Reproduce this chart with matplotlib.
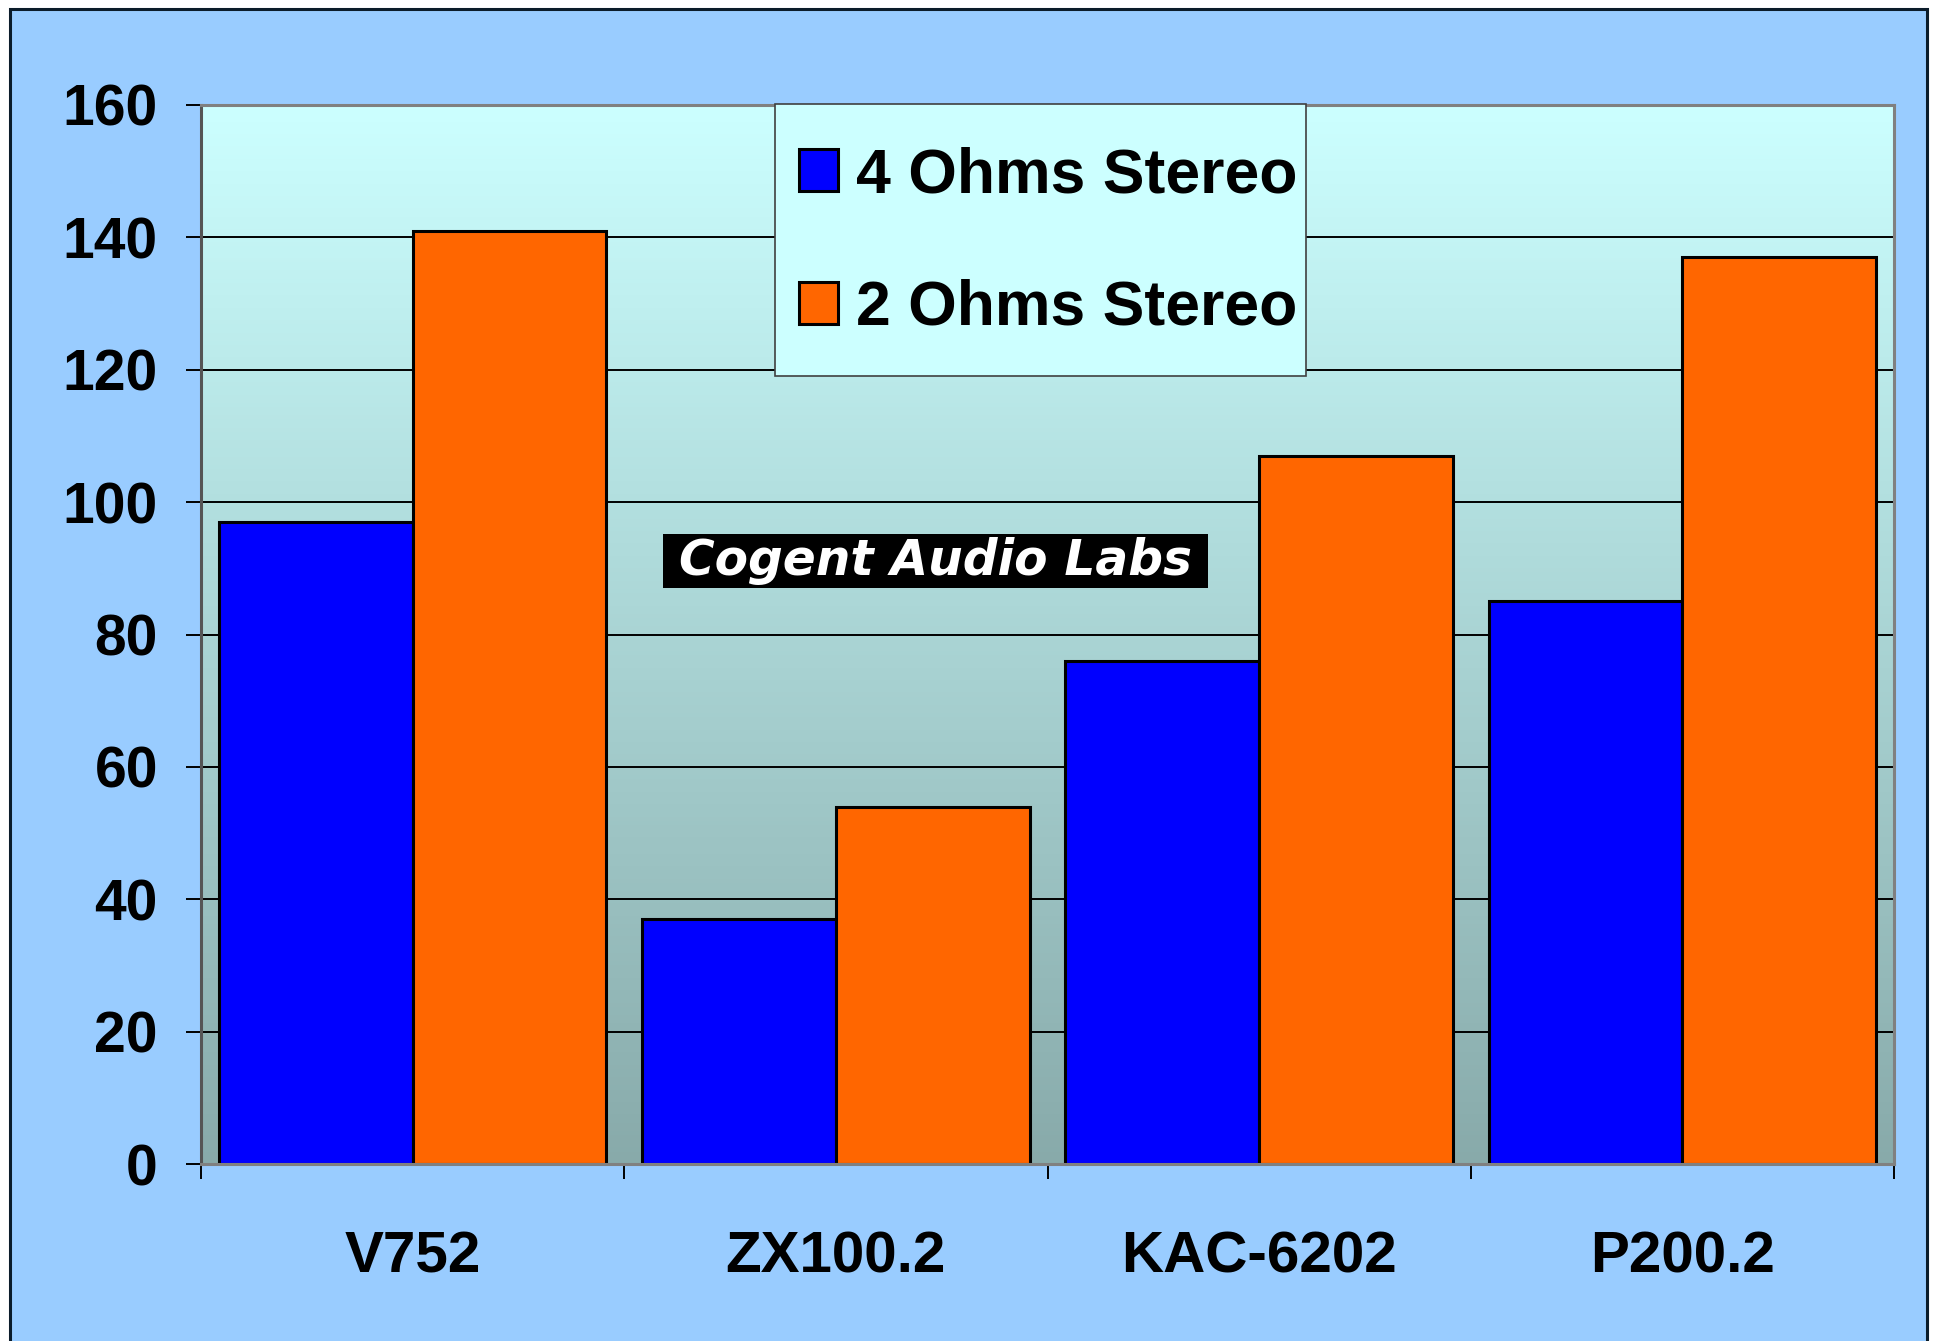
import matplotlib
matplotlib.use("Agg")
import matplotlib.pyplot as plt
import matplotlib.patches as mpatches
from matplotlib.colors import LinearSegmentedColormap
import numpy as np

plt.rcParams["font.family"] = ["Liberation Sans", "DejaVu Sans"]
plt.rcParams["font.weight"] = "bold"

models = ["V752", "ZX100.2", "KAC-6202", "P200.2"]
ohms4 = [97, 37, 76, 85]
ohms2 = [141, 54, 107, 137]
series_names = ["4 Ohms Stereo", "2 Ohms Stereo"]
yticks = [0, 20, 40, 60, 80, 100, 120, 140, 160]

W, H = 1937, 1341
fig = plt.figure(figsize=(W / 100, H / 100), dpi=100)
fig.patch.set_facecolor("white")

# blue frame behind the chart
frame = mpatches.Rectangle((10 / W, -0.02), 1917 / W, 1.02 - 9 / H,
                           transform=fig.transFigure, facecolor="#99CCFF",
                           edgecolor="#0b1c2a", lw=2.2, zorder=0)
fig.add_artist(frame)

ax = fig.add_axes([201 / W, 1 - 1164 / H, (1894 - 201) / W, (1164 - 105) / H])
ax.set_facecolor("none")

# gradient plot area
grad = LinearSegmentedColormap.from_list("bg", ["#88AAAA", "#CCFFFF"])
ax.imshow(np.linspace(0, 1, 256).reshape(-1, 1)[::-1], cmap=grad, aspect="auto",
          extent=[-0.5, 3.5, 0, 160], zorder=0)

x = np.arange(len(models))
w = 0.458
ax.bar(x - w / 2, ohms4, w, color="#0000FF", edgecolor="black", lw=2.2,
       label=series_names[0], zorder=2)
ax.bar(x + w / 2, ohms2, w, color="#FF6600", edgecolor="black", lw=2.2,
       label=series_names[1], zorder=2)

ax.set_xlim(-0.5, 3.5)
ax.set_ylim(0, 160)
ax.yaxis.grid(True, color="black", lw=1.4)
ax.set_axisbelow(True)

ax.set_yticks(yticks)
ax.set_yticklabels([str(v) for v in yticks], fontsize=41, fontweight="bold")
ax.tick_params(axis="y", direction="out", length=11, width=1.4, pad=20, color="black")

ax.set_xticks(x)
ax.set_xticklabels(models, fontsize=42, fontweight="bold")
ax.set_xticks(np.arange(-0.5, 4, 1), minor=True)
ax.tick_params(axis="x", which="major", length=0, pad=48)
ax.tick_params(axis="x", which="minor", direction="out", length=11, width=1.4, color="black")

for s in ax.spines.values():
    s.set_color("#808080")
    s.set_linewidth(2.2)
ax.spines["left"].set_color("#555555")

# legend box
ax.add_patch(mpatches.Rectangle((775 / W, 1 - 376 / H), (1306 - 775) / W, (376 - 104) / H,
                                transform=fig.transFigure, facecolor="#CCFFFF",
                                edgecolor="#404040", lw=1.2, zorder=4, clip_on=False))
leg = ax.legend(loc="center left", bbox_to_anchor=(799 / W, 1 - 242 / H),
                bbox_transform=fig.transFigure, borderaxespad=0, borderpad=0,
                fontsize=45, frameon=False, handlelength=0.62, handleheight=0.67,
                handletextpad=0.3, labelspacing=1.18)
leg.set_zorder(5)

# watermark
fig.add_artist(mpatches.Rectangle((663 / W, 1 - 588 / H), (1208 - 663) / W, 54 / H,
                                  transform=fig.transFigure, facecolor="black",
                                  edgecolor="none", zorder=6))
fig.text((663 + 1208) / 2 / W, 1 - 561 / H, "Cogent Audio Labs", color="white",
         fontsize=35, style="italic", fontweight="bold", family="DejaVu Sans",
         ha="center", va="center", zorder=7)

fig.savefig("out.png", dpi=100)
